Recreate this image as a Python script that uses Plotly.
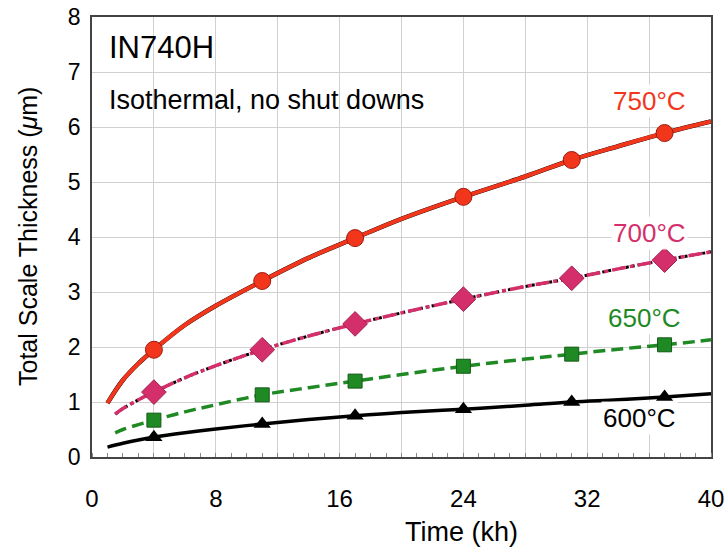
import plotly.graph_objects as go

# marker times (kh)
t_marks = [4, 11, 17, 24, 31, 37]
# measured thickness (um)
y750_marks = [1.95, 3.20, 3.98, 4.73, 5.40, 5.89]
y700_marks = [1.18, 1.95, 2.42, 2.87, 3.25, 3.58]
y650_marks = [0.67, 1.13, 1.38, 1.65, 1.87, 2.04]
y600_marks = [0.36, 0.60, 0.75, 0.87, 1.00, 1.09]

# curve samples
t750_curve = [1, 2, 3, 4, 6, 8, 11, 14, 17, 20, 24, 28, 31, 34, 37, 40]
y750_curve = [0.98, 1.40, 1.70, 1.95, 2.40, 2.75, 3.20, 3.62, 3.98, 4.33, 4.73, 5.10, 5.40, 5.65, 5.89, 6.10]
t700_curve = [1.5, 2, 3, 4, 6, 8, 11, 14, 17, 20, 24, 28, 31, 34, 37, 40]
y700_curve = [0.78, 0.88, 1.04, 1.18, 1.44, 1.66, 1.95, 2.20, 2.42, 2.62, 2.87, 3.10, 3.25, 3.42, 3.58, 3.73]
t650_curve = [1.5, 2, 3, 4, 6, 8, 11, 14, 17, 20, 24, 28, 31, 34, 37, 40]
y650_curve = [0.44, 0.50, 0.59, 0.67, 0.82, 0.95, 1.13, 1.26, 1.38, 1.50, 1.65, 1.78, 1.87, 1.96, 2.04, 2.13]
t600_curve = [1, 2, 3, 4, 6, 8, 11, 14, 17, 20, 24, 28, 31, 34, 37, 40]
y600_curve = [0.18, 0.25, 0.31, 0.36, 0.44, 0.51, 0.60, 0.68, 0.75, 0.81, 0.87, 0.94, 1.00, 1.04, 1.09, 1.15]

labels = ["750°C", "700°C", "650°C", "600°C"]
label_x = [36.0, 36.0, 35.7, 35.4]
label_y = [6.47, 4.07, 2.53, 0.71]

RED = "#f2361c"
PINK = "#d42f6a"
GREEN = "#1f8a24"
BLACK = "#000000"
FONT = "Liberation Sans, Arial, sans-serif"

fig = go.Figure()

# 750
fig.add_trace(go.Scatter(x=t750_curve, y=y750_curve, mode="lines",
                         line=dict(color=BLACK, width=4.5, shape="spline"), hoverinfo="skip"))
fig.add_trace(go.Scatter(x=t750_curve, y=y750_curve, mode="lines",
                         line=dict(color=RED, width=4, shape="spline")))
fig.add_trace(go.Scatter(x=t_marks, y=y750_marks, mode="markers",
                         marker=dict(symbol="circle", size=17, color=RED,
                                     line=dict(color="#a01a10", width=1))))
# 700
fig.add_trace(go.Scatter(x=t700_curve, y=y700_curve, mode="lines",
                         line=dict(color=BLACK, width=3, dash="dot", shape="spline")))
fig.add_trace(go.Scatter(x=t700_curve, y=y700_curve, mode="lines",
                         line=dict(color=PINK, width=3.5, dash="14px,4px,4px,4px", shape="spline")))
fig.add_trace(go.Scatter(x=t_marks, y=y700_marks, mode="markers",
                         marker=dict(symbol="diamond", size=19, color=PINK,
                                     line=dict(color="#a0204f", width=1))))
# 650
fig.add_trace(go.Scatter(x=t650_curve, y=y650_curve, mode="lines",
                         line=dict(color=GREEN, width=3.5, dash="12px,6px", shape="spline")))
fig.add_trace(go.Scatter(x=t_marks, y=y650_marks, mode="markers",
                         marker=dict(symbol="square", size=14, color=GREEN,
                                     line=dict(color="#145a18", width=1))))
# 600
fig.add_trace(go.Scatter(x=t600_curve, y=y600_curve, mode="lines",
                         line=dict(color=BLACK, width=3.5, shape="spline")))
fig.add_trace(go.Scatter(x=t_marks, y=y600_marks, mode="markers",
                         marker=dict(symbol="triangle-up", size=15, color=BLACK)))

label_colors = [RED, PINK, GREEN, BLACK]
for txt, lx, ly, c in zip(labels, label_x, label_y, label_colors):
    fig.add_annotation(x=lx, y=ly, text=txt, showarrow=False,
                       font=dict(size=26, color=c, family=FONT), bgcolor="rgba(255,255,255,0.9)")

fig.add_annotation(x=1.0, y=7.44, xanchor="left", text="IN740H", showarrow=False,
                   font=dict(size=31, color=BLACK, family=FONT))
fig.add_annotation(x=1.0, y=6.49, xanchor="left", text="Isothermal, no shut downs", showarrow=False,
                   font=dict(size=27, color=BLACK, family=FONT))
fig.add_annotation(x=0.691, y=0, xref="paper", yref="paper", yanchor="middle", yshift=-75,
                   text="Time (kh)", showarrow=False, font=dict(size=27, color=BLACK, family=FONT))
fig.add_annotation(x=0, y=0.5, xref="paper", yref="paper", xanchor="center", xshift=-64,
                   text="Total Scale Thickness (<i>μ</i>m)", textangle=-90,
                   showarrow=False, font=dict(size=25, color=BLACK, family=FONT))

tick_x = list(range(0, 41, 4))
tick_x_text = [str(v) if v % 8 == 0 else "" for v in tick_x]

fig.update_layout(
    width=727, height=549,
    margin=dict(l=92, r=16, t=17, b=92, autoexpand=False),
    paper_bgcolor="white", plot_bgcolor="white",
    showlegend=False,
    font=dict(family=FONT, size=24, color=BLACK),
    xaxis=dict(range=[0, 40], tickvals=tick_x, ticktext=tick_x_text,
               showgrid=True, gridcolor="#d0d0d0", gridwidth=1,
               showline=True, linecolor="#444", linewidth=1.5, mirror=True,
               ticks="", ticklabelstandoff=19, zeroline=False, automargin=False,
               ticklabeloverflow="allow",
               minor=dict(dtick=1, ticks="inside", ticklen=4, tickcolor="#888", showgrid=False),
               tickfont=dict(size=24)),
    yaxis=dict(range=[0, 8], dtick=1,
               showgrid=True, gridcolor="#d0d0d0", gridwidth=1,
               showline=True, linecolor="#444", linewidth=1.5, mirror=True,
               ticks="", ticklabelstandoff=5, zeroline=False, automargin=False,
               ticklabeloverflow="allow",
               tickfont=dict(size=23)),
)

fig.write_html("out.html", config={"displayModeBar": False},
               post_script="document.body.style.margin='0px'; document.body.style.overflow='hidden';")
